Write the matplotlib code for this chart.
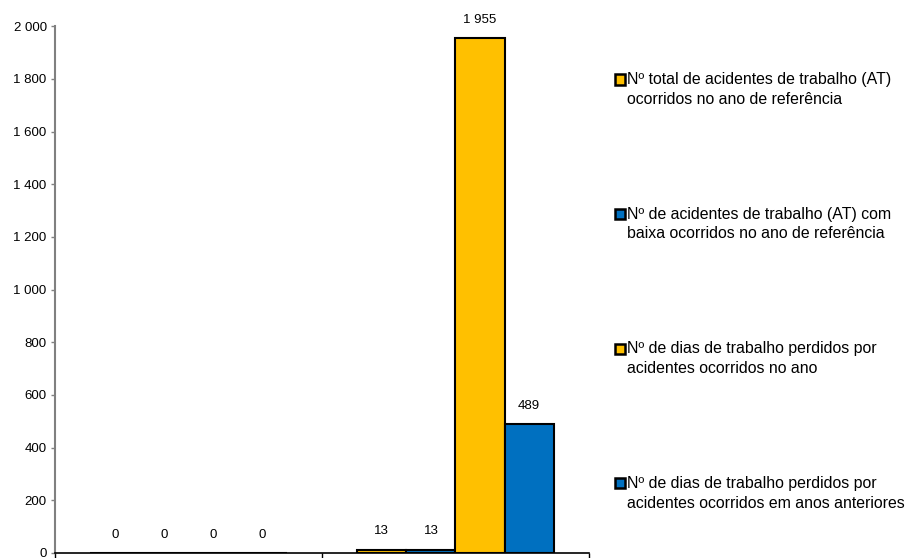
import numpy as np
import matplotlib
matplotlib.use("Agg")
import matplotlib.pyplot as plt
from matplotlib.ticker import FuncFormatter
from matplotlib.legend_handler import HandlerPatch, update_from_first_child
from matplotlib.patches import Rectangle
from matplotlib.container import BarContainer

plt.rcParams['font.family'] = ['Liberation Sans', 'DejaVu Sans']

# dados
grupos = [0, 1]
series = [
    "Nº total de acidentes de trabalho (AT)\nocorridos no ano de referência",
    "Nº de acidentes de trabalho (AT) com\nbaixa ocorridos no ano de referência",
    "Nº de dias de trabalho perdidos por\nacidentes ocorridos no ano",
    "Nº de dias de trabalho perdidos por\nacidentes ocorridos em anos anteriores",
]
valores = [
    [0, 13],
    [0, 13],
    [0, 1955],
    [0, 489],
]
cores = ["#FFC000", "#0070C0", "#FFC000", "#0070C0"]
yticks = list(range(0, 2001, 200))


def milhares(v, pos=None):
    return f"{int(v):,}".replace(",", " ")


# quadrado da legenda alinhado com a primeira linha do texto
def quadrado(legend, orig_handle, xdescent, ydescent, width, height, fontsize):
    return Rectangle((-xdescent, -ydescent + 0.65 * fontsize), width, height)


fig = plt.figure(figsize=(9.07, 5.58), dpi=100)
ax = fig.add_axes([0.0606, 0.009, 0.5888, 0.944])

largura = 0.184
x = np.array(grupos)
for i, (nome, vals, cor) in enumerate(zip(series, valores, cores)):
    pos = x + (i - 1.5) * largura
    bars = ax.bar(pos, vals, largura, color=cor, edgecolor="black",
                  linewidth=1.5, label=nome)
    for xb, v in zip(pos, vals):
        ax.annotate(milhares(v), (xb, v), xytext=(0, 13), textcoords="offset points",
                    ha="center", va="center", fontsize=9.5)

ax.set_xlim(-0.5, 1.5)
ax.set_ylim(0, 2000)
ax.set_yticks(yticks)
ax.yaxis.set_major_formatter(FuncFormatter(milhares))
ax.set_xticks([-0.5, 0.5, 1.5])
ax.set_xticklabels([])
ax.tick_params(axis="y", direction="out", length=3, width=1, color="#808080",
               labelsize=9.5, pad=3)
ax.tick_params(axis="x", direction="out", length=5, width=1, color="black")

ax.spines["top"].set_visible(False)
ax.spines["right"].set_visible(False)
ax.spines["left"].set_color("#808080")
ax.spines["left"].set_linewidth(1.5)
ax.spines["bottom"].set_color("black")
ax.spines["bottom"].set_linewidth(1.2)

leg = ax.legend(loc="center left", bbox_to_anchor=(0.678, 0.478),
                bbox_transform=fig.transFigure, frameon=False, fontsize=11.4,
                handlelength=0.62, handleheight=0.62, handletextpad=0.15,
                labelspacing=6.3, borderpad=0, borderaxespad=0,
                handler_map={BarContainer: HandlerPatch(patch_func=quadrado,
                                                        update_func=update_from_first_child)})
for h in leg.legend_handles:
    h.set_linewidth(1.8)
for t in leg.get_texts():
    t.set_linespacing(1.4)

plt.savefig("out.png", dpi=100)
plt.close()
